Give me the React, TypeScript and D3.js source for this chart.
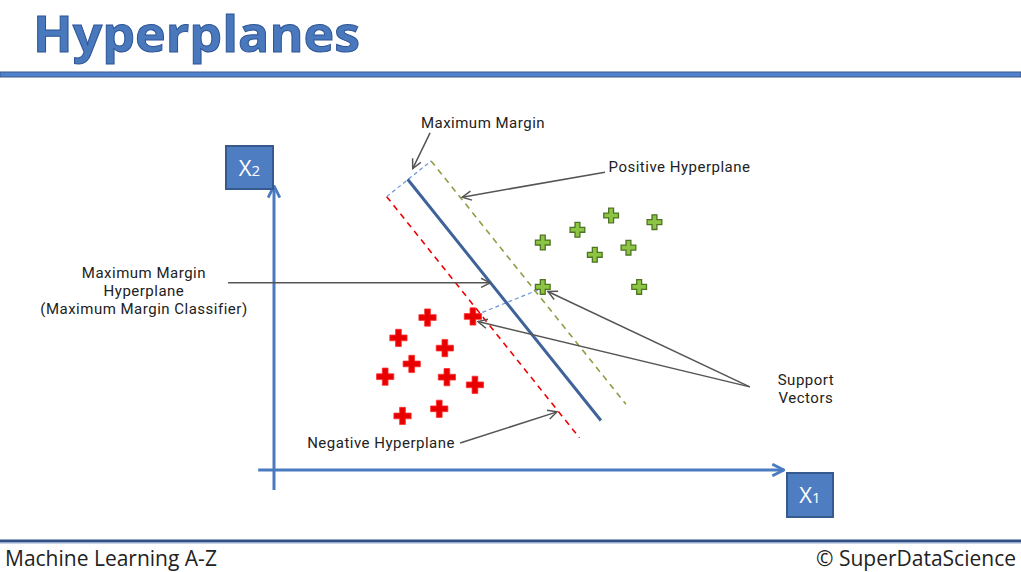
import React from "react";
import * as d3 from "d3";

// ---- data (units of the x1 / x2 feature space) ----
const negativeX = [3.01, 3.90, 2.44, 3.35, 2.70, 2.18, 3.39, 3.94, 2.52, 3.24];
const negativeY = [2.99, 3.01, 2.59, 2.39, 2.08, 1.83, 1.82, 1.67, 1.06, 1.20];
const positiveX = [5.27, 5.95, 6.61, 7.46, 6.29, 6.95, 7.16, 5.27];
const positiveY = [4.46, 4.71, 4.99, 4.86, 4.22, 4.36, 3.59, 3.59];

// hyperplanes: [x0, y0, x1, y1]
const maxMarginPlane = [2.62, 5.70, 6.41, 0.97];
const positivePlane = [3.08, 6.06, 6.90, 1.29];
const negativePlane = [2.21, 5.36, 5.99, 0.63];
const marginTop = [2.21, 5.36, 3.08, 6.06];
const marginSupport = [3.96, 3.04, 5.22, 3.55];

// annotations: label lines, arrow from -> to
const annLabels = ["Maximum Margin", "Positive Hyperplane", "Maximum Margin|Hyperplane|(Maximum Margin Classifier)", "Support|Vectors", "", "Negative Hyperplane"];
const annFromX = [3.06, 6.49, -0.90, 9.33, 9.33, 3.65];
const annFromY = [6.61, 5.84, 3.67, 1.63, 1.63, 0.53];
const annToX = [2.72, 3.69, 4.24, 5.37, 4.00, 5.55];
const annToY = [5.91, 5.35, 3.67, 3.50, 2.91, 1.14];
const annTextX = [2.88, 6.56, -2.55, 10.43, 0, 0.65];
const annTextY = [6.71, 5.84, 3.76, 1.66, 0, 0.44];
const annAnchor = ["start", "start", "middle", "middle", "start", "start"];

const W = 1021;
const H = 572;

export default function App() {
  const x = d3.scaleLinear().domain([0, 10]).range([274, 784]);
  const y = d3.scaleLinear().domain([0, 6]).range([470, 164]);
  const line = d3.line<[number, number]>().x((d) => x(d[0])).y((d) => y(d[1]));
  const seg = (s: number[]) => line([[s[0], s[1]], [s[2], s[3]]]) as string;
  const redCross = d3.symbol(d3.symbolCross, 165)() as string;
  const greenCross = d3.symbol(d3.symbolCross, 120)() as string;
  const font = "'Open Sans', sans-serif";
  const labelFont = "Roboto, sans-serif";
  const blue = "#4a7bc0";

  return (
    <svg width={W} height={H} style={{ position: "absolute", left: 0, top: 0, background: "#fff" }}>
      <defs>
        <marker id="open" viewBox="0 0 12 12" refX="11" refY="6" markerWidth="11" markerHeight="11" markerUnits="userSpaceOnUse" orient="auto">
          <path d="M1,1 L11,6 L1,11" fill="none" stroke="#555" strokeWidth={1.6} />
        </marker>
        <marker id="axisHead" viewBox="0 0 12 12" refX="11" refY="6" markerWidth="14" markerHeight="14" markerUnits="userSpaceOnUse" orient="auto">
          <path d="M1,1 L11,6 L1,11" fill="none" stroke={blue} strokeWidth={2.4} />
        </marker>
      </defs>
      <rect width={W} height={H} fill="#fff" />

      {/* title */}
      <text x={33} y={52} fontFamily={font} fontWeight={700} fontSize={50} fill="#4a78bd" stroke="#2d5595" strokeWidth={1} textLength={327} lengthAdjust="spacingAndGlyphs">Hyperplanes</text>
      <rect x={0} y={72} width={W} height={5} fill="#5081cc" stroke="#3a5a8c" strokeWidth={1} />

      {/* axes */}
      <line x1={x(-0.31)} y1={y(0)} x2={x(10)} y2={y(0)} stroke={blue} strokeWidth={3} markerEnd="url(#axisHead)" />
      <line x1={x(0)} y1={y(-0.39)} x2={x(0)} y2={y(5.57)} stroke={blue} strokeWidth={3} markerEnd="url(#axisHead)" />
      <rect x={226} y={146} width={47} height={43} fill="#4f7dc2" stroke="#36598e" strokeWidth={2} />
      <text x={249.5} y={176} textAnchor="middle" fontFamily={font} fontSize={22} fill="#fff">X<tspan fontSize={15}>2</tspan></text>
      <rect x={787} y={473} width={46} height={44} fill="#4f7dc2" stroke="#36598e" strokeWidth={2} />
      <text x={810} y={503} textAnchor="middle" fontFamily={font} fontSize={22} fill="#fff">X<tspan fontSize={15}>1</tspan></text>

      {/* margin guides */}
      <path d={seg(marginTop)} stroke="#6b95d6" strokeWidth={1.2} strokeDasharray="4 3" fill="none" />
      <path d={seg(marginSupport)} stroke="#6b95d6" strokeWidth={1.2} strokeDasharray="4 3" fill="none" />

      {/* hyperplanes */}
      <path d={seg(negativePlane)} stroke="#f00000" strokeWidth={1.6} strokeDasharray="6 5" fill="none" />
      <path d={seg(positivePlane)} stroke="#8e9d44" strokeWidth={1.6} strokeDasharray="6 5" fill="none" />
      <path d={seg(maxMarginPlane)} stroke="#3e629a" strokeWidth={3} fill="none" />

      {/* points */}
      {negativeX.map((v, i) => (
        <path key={"n" + i} d={redCross} transform={`translate(${x(v)},${y(negativeY[i])})`} fill="#e80000" stroke="#ff3030" strokeWidth={0.8} />
      ))}
      {positiveX.map((v, i) => (
        <path key={"p" + i} d={greenCross} transform={`translate(${x(v)},${y(positiveY[i])})`} fill="#8cc543" stroke="#4e7423" strokeWidth={1.3} />
      ))}

      {/* annotations */}
      {annFromX.map((v, i) => (
        <line key={"a" + i} x1={x(v)} y1={y(annFromY[i])} x2={x(annToX[i])} y2={y(annToY[i])} stroke="#555" strokeWidth={1.5} markerEnd="url(#open)" />
      ))}
      {annLabels.map((lab, i) =>
        lab ? (
          <text key={"t" + i} x={x(annTextX[i])} y={y(annTextY[i])} textAnchor={annAnchor[i]} fontFamily={labelFont} fontSize={15} letterSpacing={0.5} fill="#222">
            {lab.split("|").map((l, j) => (
              <tspan key={j} x={x(annTextX[i])} dy={j === 0 ? 0 : 17.8}>{l}</tspan>
            ))}
          </text>
        ) : null
      )}

      {/* footer */}
      <rect x={0} y={539.5} width={W} height={3} fill="#2f5088" />
      <line x1={0} y1={543.5} x2={W} y2={543.5} stroke="#c9d6ea" strokeWidth={1} />
      <text x={5} y={566} fontFamily={font} fontSize={21} fill="#222">Machine Learning A-Z</text>
      <text x={1016} y={566} textAnchor="end" fontFamily={font} fontSize={21} fill="#222">© SuperDataScience</text>
    </svg>
  );
}
